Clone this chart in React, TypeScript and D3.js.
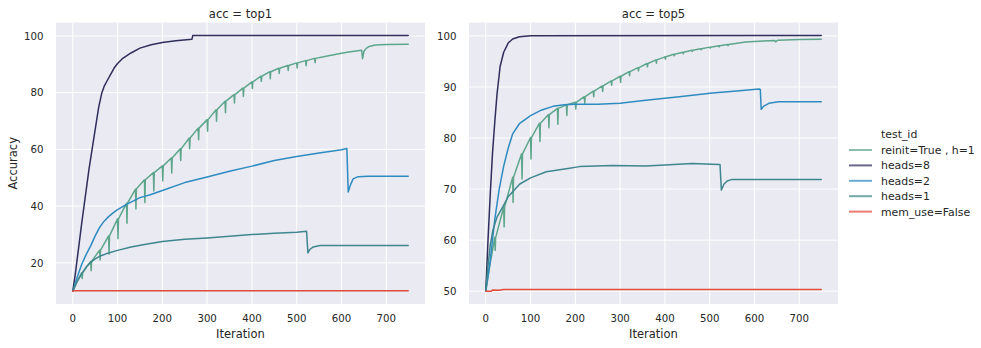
import React from "react";
import * as d3 from "d3";

type Pt = [number, number];

// ---------- categories / ticks ----------
const seriesNames = ["reinit=True , h=1", "heads=8", "heads=2", "heads=1", "mem_use=False"];
const seriesColors = ["#5ea68b", "#2f2e5c", "#2e8bc0", "#3f868e", "#e24a39"];
const panelTitles = ["acc = top1", "acc = top5"];
const iterTicks = [0, 100, 200, 300, 400, 500, 600, 700];
const top1Ticks = [20, 40, 60, 80, 100];
const top5Ticks = [50, 60, 70, 80, 90, 100];

// ---------- top1 series ----------
const top1ReinitStart: Pt[] = [[0, 10], [10, 13.5]];
// [iteration, value before dip, dip bottom]
const top1ReinitDips: [number, number, number][] = [
  [20, 16.5, 14.5], [40, 20.5, 17.2], [60, 24.5, 21], [80, 29.5, 23], [100, 35.5, 28.5],
  [120, 41, 34], [140, 46, 39], [160, 49.3, 41.3], [180, 51.8, 45.3], [200, 54.2, 48.9],
  [220, 57, 51.7], [240, 60.2, 56.1], [260, 64, 60.2], [280, 67.5, 63.4], [300, 70.5, 66.4],
  [320, 74, 69.9], [340, 77, 72.9], [360, 79.3, 76.4], [380, 81.6, 78.7], [400, 83.8, 81.5],
  [420, 85.8, 84], [440, 87.4, 84.9], [460, 88.6, 86.8], [480, 89.6, 87.8], [500, 90.5, 88.7],
  [520, 91.3, 89.5], [540, 92.1, 90.6],
];
const top1ReinitEnd: Pt[] = [
  [560, 92.7], [580, 93.3], [600, 93.9], [620, 94.4], [645, 95.0], [647, 92.0], [650, 94.5],
  [655, 95.6], [662, 96.3], [675, 96.8], [700, 97.0], [749, 97.1],
];
const top1Heads8: Pt[] = [
  [0, 10], [6, 16.5], [20, 34], [36, 52.8], [50, 67], [58, 75], [65, 80], [70, 82.2],
  [77, 84.3], [84, 86.3], [92, 88.6], [100, 90.3], [110, 91.9], [120, 93], [130, 94],
  [150, 95.7], [175, 96.9], [200, 97.7], [230, 98.3], [266, 98.8], [268, 100.2], [749, 100.2],
];
const top1Heads2: Pt[] = [
  [0, 10], [10, 15], [20, 19.5], [30, 23], [40, 26], [50, 29.5], [60, 32.5], [70, 34.7],
  [80, 36.3], [90, 37.6], [100, 38.8], [120, 40.6], [150, 43], [173, 44], [200, 45.5],
  [250, 48.3], [300, 50.3], [350, 52.3], [400, 54.1], [450, 56.1], [500, 57.5], [550, 58.7],
  [600, 59.9], [612, 60.3], [615, 45], [620, 47.5], [626, 49.6], [637, 50.4], [660, 50.5], [749, 50.5],
];
const top1Heads1: Pt[] = [
  [0, 10], [10, 13.5], [20, 16.2], [30, 18.5], [40, 20.2], [50, 21.4], [60, 22.3], [80, 23.5],
  [100, 24.4], [130, 25.6], [160, 26.5], [200, 27.5], [250, 28.3], [300, 28.8], [350, 29.4],
  [400, 30], [450, 30.4], [500, 30.8], [522, 31.1], [525, 23.5], [530, 24.8], [537, 25.6],
  [552, 26.1], [749, 26.1],
];
const top1Mem: Pt[] = [[0, 10], [5, 10.2], [749, 10.2]];

// ---------- top5 series ----------
const top5ReinitStart: Pt[] = [[0, 50], [10, 55.5]];
const top5ReinitDips: [number, number, number][] = [
  [20, 60.5, 58], [40, 66.5, 62.6], [60, 72.3, 67.4], [80, 76.9, 72], [100, 80.1, 75.9],
  [120, 82.9, 79.3], [140, 84.6, 82], [160, 85.8, 82.7], [180, 86.5, 84.4], [200, 87, 85.7],
  [220, 88.1, 86.8], [240, 89.2, 88.1], [260, 90.2, 89.1], [280, 91.2, 90.35], [300, 92.1, 90.9],
  [320, 93, 92.2], [340, 93.8, 93.15], [360, 94.6, 93.95], [380, 95.3, 94.65], [400, 95.9, 95.45],
  [420, 96.4, 96.1], [440, 96.8, 96.5], [460, 97.2, 96.95], [480, 97.5, 97.3], [500, 97.8, 97.6],
  [520, 98.05, 97.85], [540, 98.3, 98.1],
];
const top5ReinitEnd: Pt[] = [
  [580, 98.8], [620, 99.0], [645, 99.1], [647, 98.85], [652, 99.15], [700, 99.3], [749, 99.35],
];
const top5Heads8: Pt[] = [
  [0, 50], [5, 60], [10, 69], [15, 77], [20, 83], [25, 88.5], [32, 94], [40, 96.8], [50, 98.6],
  [60, 99.4], [75, 99.85], [100, 100.05], [749, 100.1],
];
const top5Heads2: Pt[] = [
  [0, 50], [10, 56], [20, 64], [30, 70], [40, 74.5], [50, 78], [60, 80.8], [75, 82.8],
  [100, 84.4], [125, 85.5], [150, 86.2], [175, 86.5], [200, 86.6], [250, 86.6], [300, 86.8],
  [357, 87.4], [432, 88.1], [506, 88.8], [560, 89.2], [610, 89.6], [613, 89.5], [615, 85.6],
  [620, 86.2], [632, 86.8], [654, 87.1], [749, 87.1],
];
const top5Heads1: Pt[] = [
  [0, 50], [5, 55], [10, 59], [16, 62], [25, 64.5], [38, 66.5], [50, 68.5], [76, 71],
  [100, 72.2], [135, 73.4], [187, 74.1], [209, 74.4], [283, 74.6], [357, 74.5], [400, 74.7],
  [461, 75], [520, 74.8], [523, 74.8], [526, 69.8], [532, 71], [539, 71.6], [550, 71.9], [749, 71.9],
];
const top5Mem: Pt[] = [[0, 50], [12, 50], [15, 50.25], [30, 50.2], [40, 50.32], [749, 50.32]];

function withDips(start: Pt[], dips: [number, number, number][], end: Pt[]): Pt[] {
  const pts: Pt[] = [...start];
  dips.forEach(([it, peak, bottom]) => {
    pts.push([it, peak], [it + 1, bottom], [it + 2, peak]);
  });
  return pts.concat(end);
}

const panels = [
  {
    title: panelTitles[0],
    ticks: top1Ticks,
    series: [
      withDips(top1ReinitStart, top1ReinitDips, top1ReinitEnd),
      top1Heads8, top1Heads2, top1Heads1, top1Mem,
    ],
  },
  {
    title: panelTitles[1],
    ticks: top5Ticks,
    series: [
      withDips(top5ReinitStart, top5ReinitDips, top5ReinitEnd),
      top5Heads8, top5Heads2, top5Heads1, top5Mem,
    ],
  },
];

const W = 981;
const H = 348;
const panelX = [[56, 425], [469, 838]];
const plotTop = 22.6;
const plotBottom = 304;
const textColor = "#262626";
const font = "DejaVu Sans, sans-serif";

export default function App() {
  const allX = panels.flatMap((p) => p.series.flatMap((s) => s.map((d) => d[0])));
  const xMin = d3.min(allX)!;
  const xMax = d3.max(allX)!;
  const xPad = (xMax - xMin) * 0.05;

  return (
    <svg width={W} height={H} style={{ position: "absolute", left: 0, top: 0, background: "#fff" }}>
      {panels.map((panel, pi) => {
        const [x0, x1] = panelX[pi];
        const x = d3.scaleLinear().domain([xMin - xPad, xMax + xPad]).range([x0, x1]);
        const ys = panel.series.flatMap((s) => s.map((d) => d[1]));
        const yMin = d3.min(ys)!;
        const yMax = d3.max(ys)!;
        const yPad = (yMax - yMin) * 0.05;
        const y = d3.scaleLinear().domain([yMin - yPad, yMax + yPad]).range([plotBottom, plotTop]);
        const line = d3
          .line<Pt>()
          .x((d) => x(d[0]))
          .y((d) => y(d[1]));
        const cx = (x0 + x1) / 2;
        return (
          <g key={pi}>
            <rect x={x0} y={plotTop} width={x1 - x0} height={plotBottom - plotTop} fill="#eaeaf2" />
            {iterTicks.map((t) => (
              <line key={"gx" + t} x1={x(t)} x2={x(t)} y1={plotTop} y2={plotBottom} stroke="#fff" strokeWidth={1} />
            ))}
            {panel.ticks.map((t) => (
              <line key={"gy" + t} x1={x0} x2={x1} y1={y(t)} y2={y(t)} stroke="#fff" strokeWidth={1} />
            ))}
            {panel.series.map((s, si) => (
              <path
                key={si}
                d={line(s) || ""}
                fill="none"
                stroke={seriesColors[si]}
                strokeWidth={1.5}
                strokeLinejoin="round"
                strokeLinecap="round"
              />
            ))}
            {iterTicks.map((t) => (
              <text key={"tx" + t} x={x(t)} y={322} textAnchor="middle" fontSize={10.2} fontFamily={font} fill={textColor}>
                {t}
              </text>
            ))}
            {panel.ticks.map((t) => (
              <text key={"ty" + t} x={x0 - 12.5} y={y(t)} dy="0.36em" textAnchor="end" fontSize={10.2} fontFamily={font} fill={textColor}>
                {t}
              </text>
            ))}
            <text x={cx} y={17.5} textAnchor="middle" fontSize={11.6} fontFamily={font} fill={textColor}>
              {panel.title}
            </text>
            <text x={cx} y={337.5} textAnchor="middle" fontSize={11.5} fontFamily={font} fill={textColor}>
              Iteration
            </text>
          </g>
        );
      })}
      <text
        transform={`translate(16.7, ${(plotTop + plotBottom) / 2}) rotate(-90)`}
        textAnchor="middle"
        fontSize={11.5}
        fontFamily={font}
        fill={textColor}
      >
        Accuracy
      </text>
      <g>
        <text x={881} y={137.8} fontSize={10.9} fontFamily={font} fill={textColor}>
          test_id
        </text>
        {seriesNames.map((name, i) => {
          const ly = 150 + i * 15.4;
          return (
            <g key={name}>
              <line x1={849} x2={872} y1={ly} y2={ly} stroke={seriesColors[i]} strokeOpacity={0.72} strokeWidth={2} />
              <text x={881} y={ly + 3.9} fontSize={10.9} fontFamily={font} fill={textColor}>
                {name}
              </text>
            </g>
          );
        })}
      </g>
    </svg>
  );
}
